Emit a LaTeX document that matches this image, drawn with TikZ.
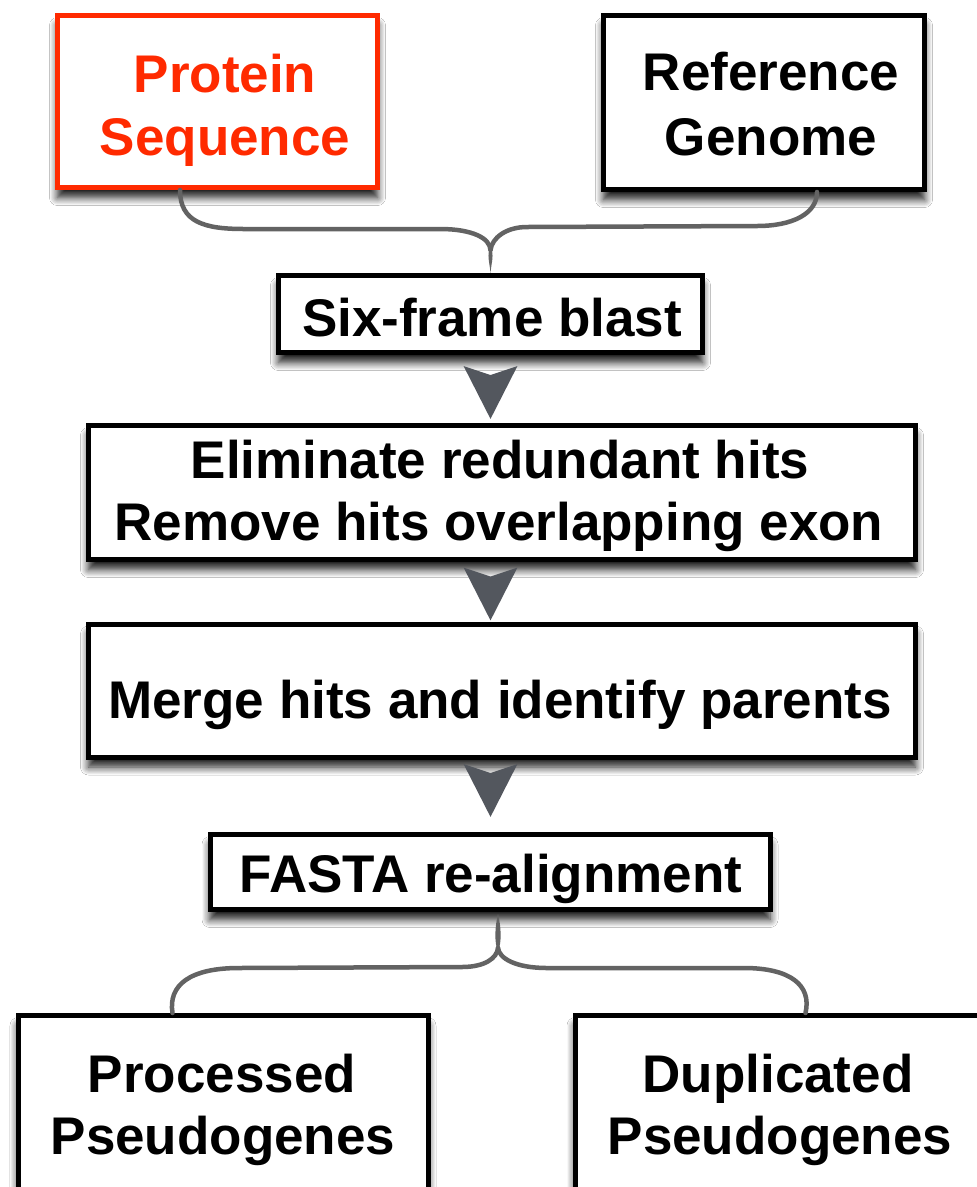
\documentclass[tikz,border=0pt]{standalone}
\usepackage{fontspec}
\setmainfont{Liberation Sans}
\usetikzlibrary{arrows.meta,calc,shadows.blur}
\definecolor{redbox}{HTML}{FF2A00}
\definecolor{arrowgray}{HTML}{53575E}
\definecolor{bracegray}{HTML}{636363}
\tikzset{
  box/.style={draw=black, line width=5pt, fill=white, rectangle, inner sep=0pt,
    blur shadow={shadow xshift=0pt, shadow yshift=-10pt, shadow blur radius=8pt, shadow opacity=90, shadow blur steps=8}},
  redstyle/.style={box, draw=redbox},
  lbl/.style={anchor=base, inner sep=0pt, font=\fontsize{53}{62}\selectfont\bfseries},
  flowarrow/.style={arrowgray, draw opacity=0, line width=0.1pt, shorten <=8pt, shorten >=6pt,
    -{Stealth[length=53pt, width=54pt, inset=9pt, fill=arrowgray]}},
  bracepath/.style={draw=bracegray, line width=4.5pt, line cap=round, line join=round},
}
\begin{document}
\begin{tikzpicture}[x=1pt,y=-1pt]
\useasboundingbox (0,0) rectangle (977,1187);
\fill[white] (0,0) rectangle (977,1187);
\clip (0,0) rectangle (977,1187);

% boxes
\node[redstyle, minimum width=320pt, minimum height=172pt] (prot) at (217.5,101.5) {};
\node[box, minimum width=321pt, minimum height=174pt] (ref) at (764,102.5) {};
\node[box, minimum width=424pt, minimum height=77pt] (six) at (490.5,314) {};
\node[box, minimum width=827pt, minimum height=134pt] (elim) at (502,492.5) {};
\node[box, minimum width=827pt, minimum height=133pt] (merge) at (502,690.5) {};
\node[box, minimum width=560pt, minimum height=75pt] (fasta) at (490,872) {};
\node[box, minimum width=410pt, minimum height=200pt] (proc) at (223,1115.5) {};
\node[box, minimum width=420pt, minimum height=200pt] (dup) at (785,1115.5) {};

% texts
\node[lbl, text=redbox] (t1a) at (225,92) {Protein};
\node[lbl, text=redbox] (t1b) at (225,155) {Sequence};
\node[lbl] (t2a) at (771,90) {Reference};
\node[lbl] (t2b) at (771,155) {Genome};
\node[lbl] (t3) at (492,336) {Six-frame blast};
\node[lbl] (t4a) at (500,478) {Eliminate redundant hits};
\node[lbl] (t4b) at (499,540) {Remove hits overlapping exon};
\node[lbl] (t5) at (500,718) {Merge hits and identify parents};
\node[lbl] (t6) at (491,892) {FASTA re-alignment};
\node[lbl] (t7a) at (222,1092) {Processed};
\node[lbl] (t7b) at (223,1154) {Pseudogenes};
\node[lbl] (t8a) at (778,1092) {Duplicated};
\node[lbl] (t8b) at (780,1154) {Pseudogenes};

% flow arrows
\draw[flowarrow, shorten <=7pt, shorten >=4pt] (six.south) -- (six.south |- elim.north);
\draw[flowarrow, shorten <=6pt, shorten >=1pt] (elim.south -| six.south) -- (merge.north -| six.south);
\draw[flowarrow, shorten <=2pt, shorten >=15pt] (merge.south -| six.south) -- (fasta.north -| six.south);

% top brace: protein + reference -> six-frame blast
\coordinate (cusp1) at ($(six.north)+(0,-23)$);
\draw[bracepath] ($(prot.south west)+(125,0)$)
  .. controls +(0,32) and +(-40,0) .. (244,229)
  -- (440,229)
  .. controls (472,229) and (490,238) .. (cusp1);
\draw[bracepath] (cusp1)
  .. controls (492,238) and (506,227) .. (527,227)
  -- (757,226)
  .. controls (792,226) and (817,214) .. ($(ref.south west)+(216,0)$);
\fill[bracegray] ($(cusp1)+(0,-4)$) .. controls +(4,10) and +(1,-12) .. (six.north)
  .. controls +(-1,-12) and +(-4,10) .. ($(cusp1)+(0,-4)$);

% bottom brace: FASTA -> processed + duplicated
\coordinate (cusp2) at ($(fasta.south)+(8,36)$);
\fill[bracegray] ($(fasta.south)+(8,2)$) .. controls +(-3,12) and +(-4,-10) .. ($(cusp2)+(0,4)$)
  .. controls +(4,-10) and +(3,12) .. ($(fasta.south)+(8,2)$);
\draw[bracepath] (cusp2)
  .. controls (497,958) and (485,967) .. (462,967)
  -- (239,968)
  .. controls (190,968) and (168,985) .. ($(proc.north west)+(157,0)$);
\draw[bracepath] (cusp2)
  .. controls (499,958) and (515,968) .. (547,968)
  -- (744,968)
  .. controls (790,968) and (812,985) .. ($(dup.north west)+(233,0)$);
\end{tikzpicture}
\end{document}
